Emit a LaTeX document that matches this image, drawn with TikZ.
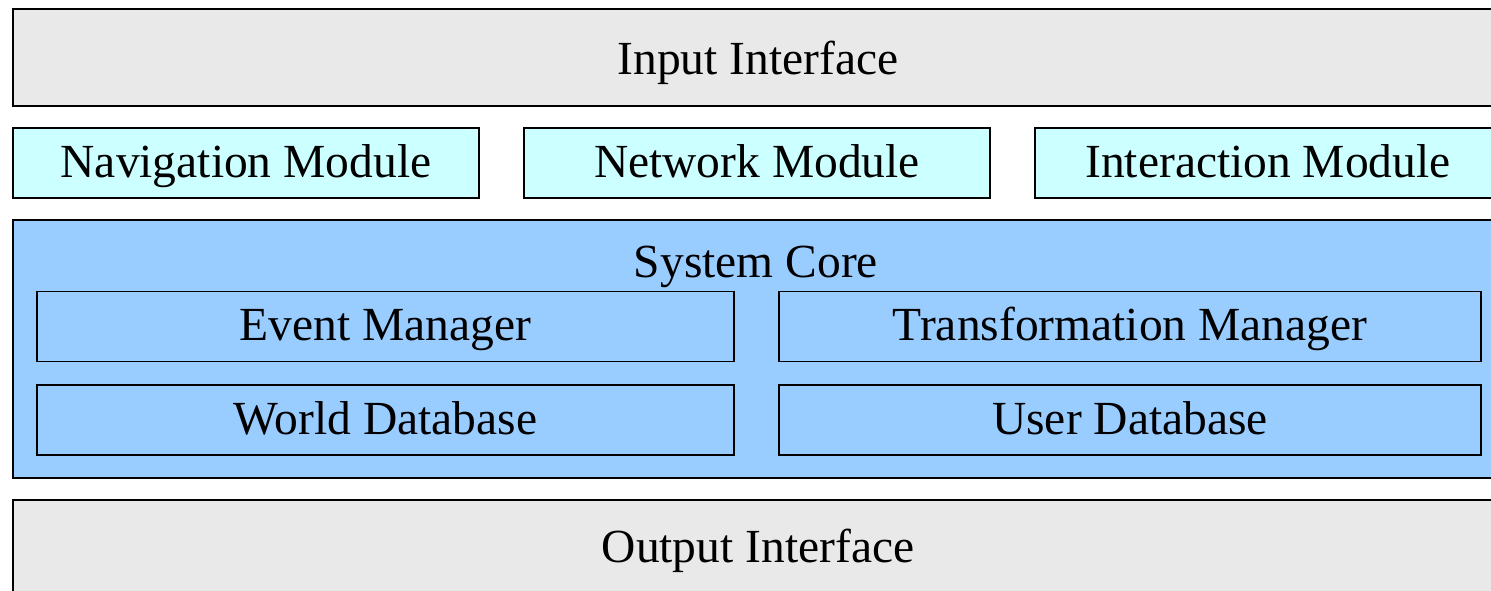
\documentclass[tikz,border=0pt]{standalone}
\usepackage{fontspec}
\setmainfont{Liberation Serif}
\definecolor{ifacegray}{HTML}{E9E9E9}
\definecolor{modcyan}{HTML}{CCFFFF}
\definecolor{coreblue}{HTML}{99CCFF}
\begin{document}
\begin{tikzpicture}[x=1pt,y=-1pt,
                    every node/.style={font=\fontsize{47.5}{52}\selectfont,text height=31pt,text depth=3pt},
                    iface box/.style={rectangle,draw,line width=2.6pt,fill=ifacegray,minimum width=1490pt,minimum height=97pt,inner sep=0pt},
                    module box/.style={rectangle,draw,line width=1.8pt,fill=modcyan,minimum width=466pt,minimum height=70pt,inner sep=0pt},
                    core box/.style={rectangle,draw,line width=2.6pt,fill=coreblue,minimum width=1490pt,minimum height=258pt,inner sep=0pt},
                    part box/.style={rectangle,draw,line width=1.8pt,fill=coreblue,minimum height=70pt,inner sep=0pt}]
  \useasboundingbox (0,0) rectangle (1491,590);
  \clip (0,0) rectangle (1491,590);

  \node[iface box,text height=36pt] (input) at (758,57.5) {Input Interface};

  \node[module box] (nav) at (246,163) {Navigation Module};
  \node[module box] (net) at (757,163) {Network Module};
  \node[module box] (inter) at (1268,163) {Interaction Module};

  \node[core box] (core) at (758,349) {};
  \node (coretitle) at (756,263) {System Core};
  \node[part box,minimum width=697pt] (event) at (385.5,326.5) {Event Manager};
  \node[part box,minimum width=702pt] (trans) at (1130,326.5) {Transformation Manager};
  \node[part box,minimum width=697pt] (world) at (385.5,420) {World Database};
  \node[part box,minimum width=702pt] (user) at (1130,420) {User Database};

  \node[iface box] (output) at (758,548.5) {Output Interface};
\end{tikzpicture}
\end{document}
